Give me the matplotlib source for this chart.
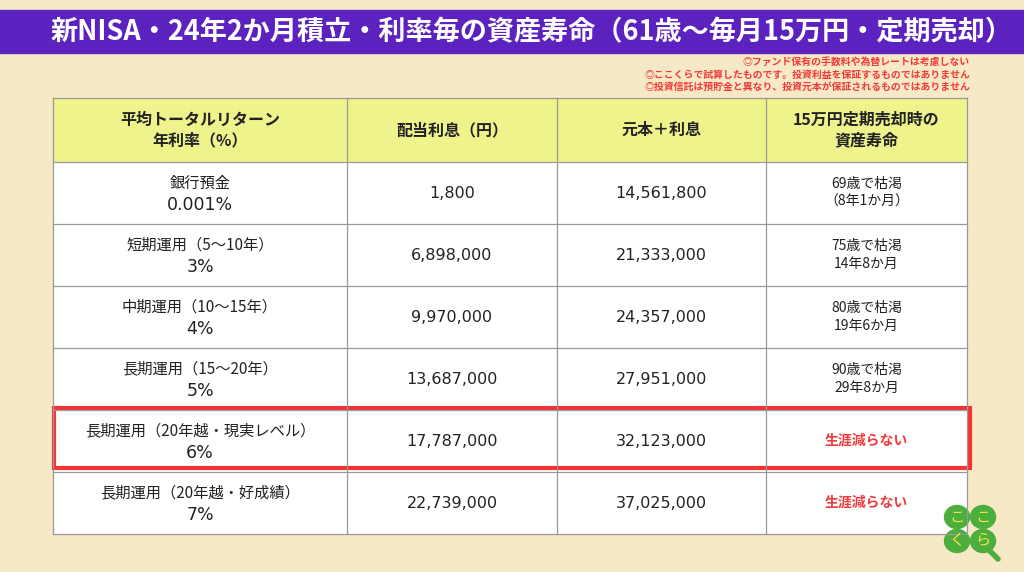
import matplotlib.pyplot as plt
from matplotlib.patches import Rectangle, Ellipse

plt.rcParams['font.family'] = ['Noto Sans CJK JP', 'DejaVu Sans']
num_font = ['DejaVu Sans', 'Noto Sans CJK JP']

title = "新NISA・24年2か月積立・利率毎の資産寿命（61歳～毎月15万円・定期売却）"
notes = ["◎ファンド保有の手数料や為替レートは考慮しない",
         "◎ここくらで試算したものです。投資利益を保証するものではありません",
         "◎投資信託は預貯金と異なり、投資元本が保証されるものではありません"]
headers = ["平均トータルリターン\n年利率（%）", "配当利息（円）", "元本＋利息", "15万円定期売却時の\n資産寿命"]
kinds = ["銀行預金", "短期運用（5～10年）", "中期運用（10～15年）", "長期運用（15～20年）",
         "長期運用（20年越・現実レベル）", "長期運用（20年越・好成績）"]
rates = ["0.001%", "3%", "4%", "5%", "6%", "7%"]
dividend = [1800, 6898000, 9970000, 13687000, 17787000, 22739000]
total = [14561800, 21333000, 24357000, 27951000, 32123000, 37025000]
lifespan = ["69歳で枯渇\n（8年1か月）", "75歳で枯渇\n14年8か月", "80歳で枯渇\n19年6か月",
            "90歳で枯渇\n29年8か月", "生涯減らない", "生涯減らない"]
highlight = 4

fig = plt.figure(figsize=(10.24, 5.72), dpi=100)
fig.patch.set_facecolor("#f7e9c6")
ax = fig.add_axes([0, 0, 1, 1])
ax.set_xlim(0, 1024)
ax.set_ylim(572, 0)
ax.axis("off")

# title bar
ax.add_patch(Rectangle((0, 10), 1024, 43, color="#5b22c0"))
ax.text(532, 32, title, color="white", fontsize=19.5, fontweight="bold", ha="center", va="center")

for i, n in enumerate(notes):
    ax.text(970, 63 + i * 12, n, color="#f03a3a", fontsize=7.1, fontweight="bold",
            ha="right", va="center")

# table
cols = [53, 347, 557, 766, 967]
top, head_h, row_h = 98, 64, 62
ax.add_patch(Rectangle((cols[0], top), cols[-1] - cols[0], head_h, fc="#eef38c", ec="none"))
ax.add_patch(Rectangle((cols[0], top + head_h), cols[-1] - cols[0], row_h * len(kinds),
                       fc="white", ec="none"))
bottom = top + head_h + row_h * len(kinds)
for x in cols:
    ax.plot([x, x], [top, bottom], color="#999999", lw=0.9)
for r in range(len(kinds) + 2):
    y = top if r == 0 else top + head_h + row_h * (r - 1)
    ax.plot([cols[0], cols[-1]], [y, y], color="#999999", lw=0.9)

for j, h in enumerate(headers):
    ax.text((cols[j] + cols[j + 1]) / 2, top + head_h / 2, h, fontsize=11.5, fontweight="bold",
            ha="center", va="center", linespacing=1.3, color="#222222")

for i in range(len(kinds)):
    yc = top + head_h + row_h * i + row_h / 2
    ax.text((cols[0] + cols[1]) / 2, yc - 10, kinds[i], fontsize=11, ha="center", va="center",
            color="#222222")
    ax.text((cols[0] + cols[1]) / 2, yc + 12, rates[i], fontsize=12.5, ha="center", va="center",
            color="#222222", family=num_font)
    ax.text((cols[1] + cols[2]) / 2, yc, f"{dividend[i]:,}", fontsize=11.5, ha="center",
            va="center", color="#222222", family=num_font)
    ax.text((cols[2] + cols[3]) / 2, yc, f"{total[i]:,}", fontsize=11.5, ha="center",
            va="center", color="#222222", family=num_font)
    red = "\n" not in lifespan[i]
    ax.text((cols[3] + cols[4]) / 2, yc, lifespan[i], fontsize=10,
            fontweight="bold" if red else "normal", ha="center", va="center",
            color="#f03a3a" if red else "#222222", linespacing=1.35)

hy = top + head_h + row_h * highlight
ax.add_patch(Rectangle((cols[0] + 1, hy - 2), cols[-1] - cols[0] + 2, row_h - 2, fc="none",
                       ec="#f23434", lw=3))

# clover logo
g = "#4cae3c"
cx, cy = 970, 529
offs = [(-13, -12), (13, -12), (-13, 12), (13, 12)]
ax.plot([cx + 12, cx + 28], [cy + 14, cy + 30], color=g, lw=4, solid_capstyle="round")
for dx, dy in offs:
    ax.add_patch(Ellipse((cx + dx, cy + dy), 25, 23, color=g))
for (dx, dy), ch in zip(offs, "ここくら"):
    ax.text(cx + dx, cy + dy, ch, color="#f2e640", fontsize=11, ha="center", va="center")

fig.savefig("out.png", dpi=100, facecolor=fig.get_facecolor())
